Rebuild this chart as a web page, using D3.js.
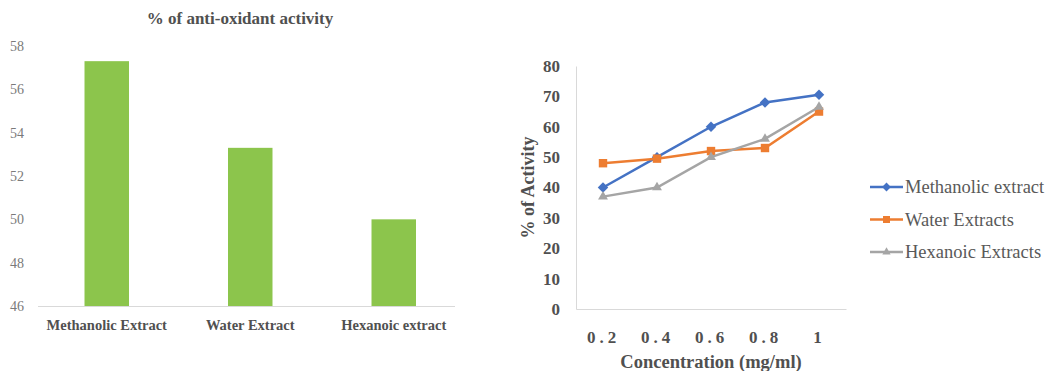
<!DOCTYPE html>
<html>
<head>
<meta charset="utf-8">
<script src="https://cdn.jsdelivr.net/npm/d3@7"></script>
<style>
  html, body { margin: 0; padding: 0; background: #ffffff; }
  svg { display: block; }
  svg text { font-family: "Liberation Serif", "Times New Roman", serif !important; }
</style>
</head>
<body>
<svg id="chart" width="1057" height="371"></svg>
<script>
// Bar chart: % of anti-oxidant activity per extract
const barCategories = ["Methanolic Extract", "Water Extract", "Hexanoic extract"];
const barValues = [57.3, 53.3, 50.0];
const barTicks = [46, 48, 50, 52, 54, 56, 58];

// Line chart: activity against concentration
const concentrations = ["0.2", "0.4", "0.6", "0.8", "1"];
const methanolic = [40, 50, 60, 68, 70.5];
const water = [48, 49.5, 52, 53, 65];
const hexanoic = [37, 40, 50, 56, 66.5];
const seriesNames = ["Methanolic extract", "Water Extracts", "Hexanoic Extracts"];
const lineTicks = [0, 10, 20, 30, 40, 50, 60, 70, 80];

const svg = d3.select("#chart");

// ---------- bar chart ----------
const bx = d3.scaleBand().domain(barCategories).range([35, 465.5])
  .paddingInner(0.69).paddingOuter(0.345);
const by = d3.scaleLinear().domain([46, 58]).range([306, 46]);

svg.append("text")
  .attr("x", 240).attr("y", 24)
  .attr("text-anchor", "middle")
  .attr("font-weight", "bold").attr("font-size", 17)
  .attr("fill", "#505050")
  .text("% of anti-oxidant activity");

const barYAxis = svg.append("g").attr("transform", "translate(24,0)")
  .call(d3.axisLeft(by).tickValues(barTicks).tickSize(0).tickPadding(0).tickFormat(d3.format("d")));
barYAxis.select(".domain").remove();
barYAxis.selectAll("text")
  .attr("font-size", 14).attr("fill", "#7a7a7a");

svg.append("g").selectAll("rect")
  .data(barValues)
  .join("rect")
  .attr("x", (d, i) => bx(barCategories[i]))
  .attr("width", bx.bandwidth())
  .attr("y", d => by(d))
  .attr("height", d => by(46) - by(d))
  .attr("fill", "#8cc54c");

const barXAxis = svg.append("g").attr("transform", `translate(0,${by(46)})`)
  .call(d3.axisBottom(bx).tickSize(0).tickPadding(14));
barXAxis.select(".domain").attr("stroke", "#d9d9d9").attr("stroke-width", 1)
  .attr("d", "M38,0.5H455");
barXAxis.selectAll("text")
  .attr("font-weight", "bold").attr("font-size", 14.5).attr("fill", "#505050");

// ---------- line chart ----------
const lx = d3.scalePoint().domain(concentrations).range([576, 846]).padding(0.5);
const ly = d3.scaleLinear().domain([0, 80]).range([309, 66]);

const lineYAxis = svg.append("g").attr("transform", "translate(576,0)")
  .call(d3.axisLeft(ly).tickValues(lineTicks).tickSize(0).tickPadding(16));
lineYAxis.select(".domain").attr("stroke", "#d9d9d9").attr("stroke-width", 1);
lineYAxis.selectAll("text")
  .attr("font-weight", "bold").attr("font-size", 17).attr("fill", "#505050");

const lineXAxis = svg.append("g").attr("transform", `translate(0,${ly(0)})`)
  .call(d3.axisBottom(lx).tickSize(0).tickPadding(22));
lineXAxis.select(".domain").attr("stroke", "#d9d9d9").attr("stroke-width", 1);
lineXAxis.selectAll("text")
  .attr("font-weight", "bold").attr("font-size", 17).attr("fill", "#505050")
  .attr("letter-spacing", 4);

svg.append("text")
  .attr("transform", `translate(534,${(ly(0) + ly(80)) / 2}) rotate(-90)`)
  .attr("text-anchor", "middle")
  .attr("font-weight", "bold").attr("font-size", 18).attr("fill", "#505050")
  .text("% of Activity");

svg.append("text")
  .attr("x", (576 + 846) / 2).attr("y", 368)
  .attr("text-anchor", "middle")
  .attr("font-weight", "bold").attr("font-size", 18.5).attr("fill", "#505050")
  .text("Concentration (mg/ml)");

const series = [
  { name: seriesNames[0], values: methanolic, color: "#4472c4", symbol: d3.symbolDiamond2, size: 70 },
  { name: seriesNames[1], values: water, color: "#ed7d31", symbol: d3.symbolSquare2, size: 90 },
  { name: seriesNames[2], values: hexanoic, color: "#a5a5a5", symbol: d3.symbolTriangle2, size: 70 }
];

const line = d3.line().x((d, i) => lx(concentrations[i])).y(d => ly(d));

series.forEach(s => {
  const g = svg.append("g");
  g.append("path").datum(s.values)
    .attr("d", line).attr("fill", "none")
    .attr("stroke", s.color).attr("stroke-width", 2.5);
  g.selectAll("path.pt").data(s.values).join("path").attr("class", "pt")
    .attr("transform", (d, i) => `translate(${lx(concentrations[i])},${ly(d)})`)
    .attr("d", d3.symbol().type(s.symbol).size(s.size))
    .attr("fill", s.color);
});

// legend
const legend = svg.append("g").attr("transform", "translate(870,187)");
series.forEach((s, i) => {
  const row = legend.append("g").attr("transform", `translate(0,${i * 32.5})`);
  row.append("line").attr("x1", 0).attr("x2", 33).attr("y1", 0).attr("y2", 0)
    .attr("stroke", s.color).attr("stroke-width", 2.5);
  row.append("path").attr("transform", "translate(16.5,0)")
    .attr("d", d3.symbol().type(s.symbol).size(s.size * 0.7))
    .attr("fill", s.color);
  row.append("text").attr("x", 35).attr("y", 6)
    .attr("font-size", 18.5).attr("fill", "#595959")
    .text(s.name);
});
</script>
</body>
</html>
